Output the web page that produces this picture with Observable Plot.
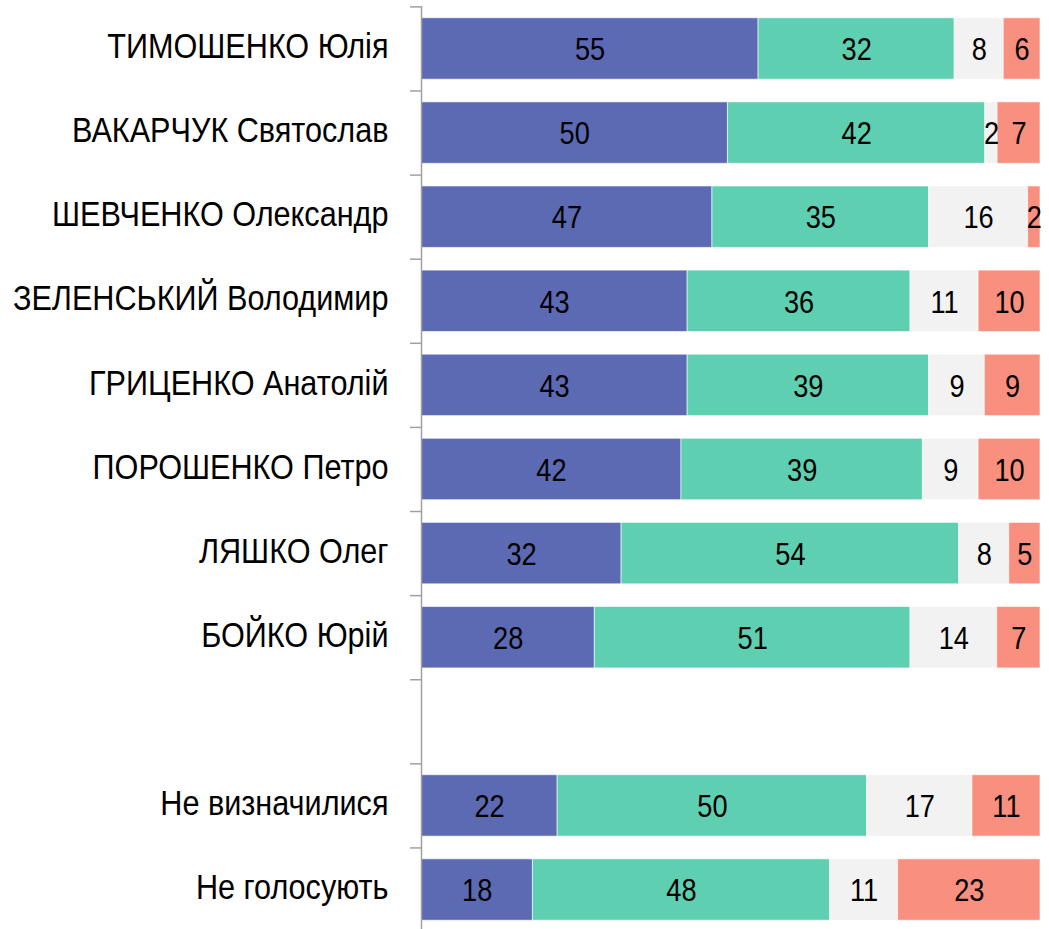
<!DOCTYPE html>
<html>
<head>
<meta charset="utf-8">
<script src="https://cdn.jsdelivr.net/npm/d3@7"></script>
<script src="https://cdn.jsdelivr.net/npm/@observablehq/plot@0.6"></script>
<style>
  html, body { margin: 0; padding: 0; background: #fff; }
  #chart svg { display: block; }
</style>
</head>
<body>
<div id="chart"></div>
<script>
const names = [
  "ТИМОШЕНКО Юлія",
  "ВАКАРЧУК Святослав",
  "ШЕВЧЕНКО Олександр",
  "ЗЕЛЕНСЬКИЙ Володимир",
  "ГРИЦЕНКО Анатолій",
  "ПОРОШЕНКО Петро",
  "ЛЯШКО Олег",
  "БОЙКО Юрій",
  " ",
  "Не визначилися",
  "Не голосують"
];
const series = ["s1", "s2", "s3", "s4"];
const s1 = [55, 50, 47, 43, 43, 42, 32, 28, null, 22, 18];
const s2 = [32, 42, 35, 36, 39, 39, 54, 51, null, 50, 48];
const s3 = [8, 2, 16, 11, 9, 9, 8, 14, null, 17, 11];
const s4 = [6, 7, 2, 10, 9, 10, 5, 7, null, 11, 23];
const colors = ["#5b6ab3", "#5ecfb1", "#f2f2f2", "#f98f7e"];

const cols = [s1, s2, s3, s4];
const data = [];
names.forEach((n, i) => {
  cols.forEach((c, k) => {
    if (c[i] != null) data.push({name: n, cat: series[k], value: c[i]});
  });
});

const W = 1049, H = 929, mTop = 6, yBottom = 932;
const step = (yBottom - mTop) / names.length;
const font = "'Liberation Sans Narrow', 'Arial Narrow', 'Liberation Sans', Arial, sans-serif";

const chart = Plot.plot({
  width: W,
  height: H,
  marginTop: mTop,
  marginBottom: 0,
  marginLeft: 421,
  marginRight: 9,
  style: {fontFamily: font, fontSize: "35px", color: "#000", background: "#fff"},
  x: {domain: [0, 1], axis: null},
  y: {domain: names, range: [mTop, yBottom], paddingInner: 0.27, paddingOuter: 0.14, round: false, label: null},
  color: {domain: series, range: colors},
  marks: [
    Plot.barX(data, Plot.stackX({
      x: "value", y: "name", z: "cat", fill: "cat", offset: "normalize",
      stroke: "#fff", strokeOpacity: 0.6, strokeWidth: 1
    })),
    Plot.text(data, Plot.stackX({
      x: "value", y: "name", z: "cat", text: "value", offset: "normalize",
      fill: "#000", fontSize: 32, dy: 1
    })),
    Plot.axisY({tickSize: 0, tickPadding: 33, fontSize: 35, fill: "#000", dy: -2, label: null}),
    Plot.axisY({tickSize: 11, tickFormat: () => "", dy: -step / 2, stroke: "#a0a0a0", strokeWidth: 1.5, label: null}),
    Plot.ruleX([0], {stroke: "#a0a0a0", strokeWidth: 1.5})
  ]
});

// condense the text horizontally (narrow face, as in the reference)
chart.querySelectorAll("text").forEach(t => {
  if (!t.textContent.trim()) return;
  const lab = (t.closest("[aria-label]") || t).getAttribute("aria-label") || "";
  const sx = lab.includes("axis") ? 0.875 : 0.85;
  const xa = t.getAttribute("x");
  const x = xa != null && !isNaN(+xa) ? +xa : 0;
  if (xa != null && !isNaN(+xa)) t.setAttribute("x", 0);
  const tr = t.getAttribute("transform") || "";
  t.setAttribute("transform", `${tr} translate(${x},0) scale(${sx},1)`);
});
document.getElementById("chart").appendChild(chart);
</script>
</body>
</html>
